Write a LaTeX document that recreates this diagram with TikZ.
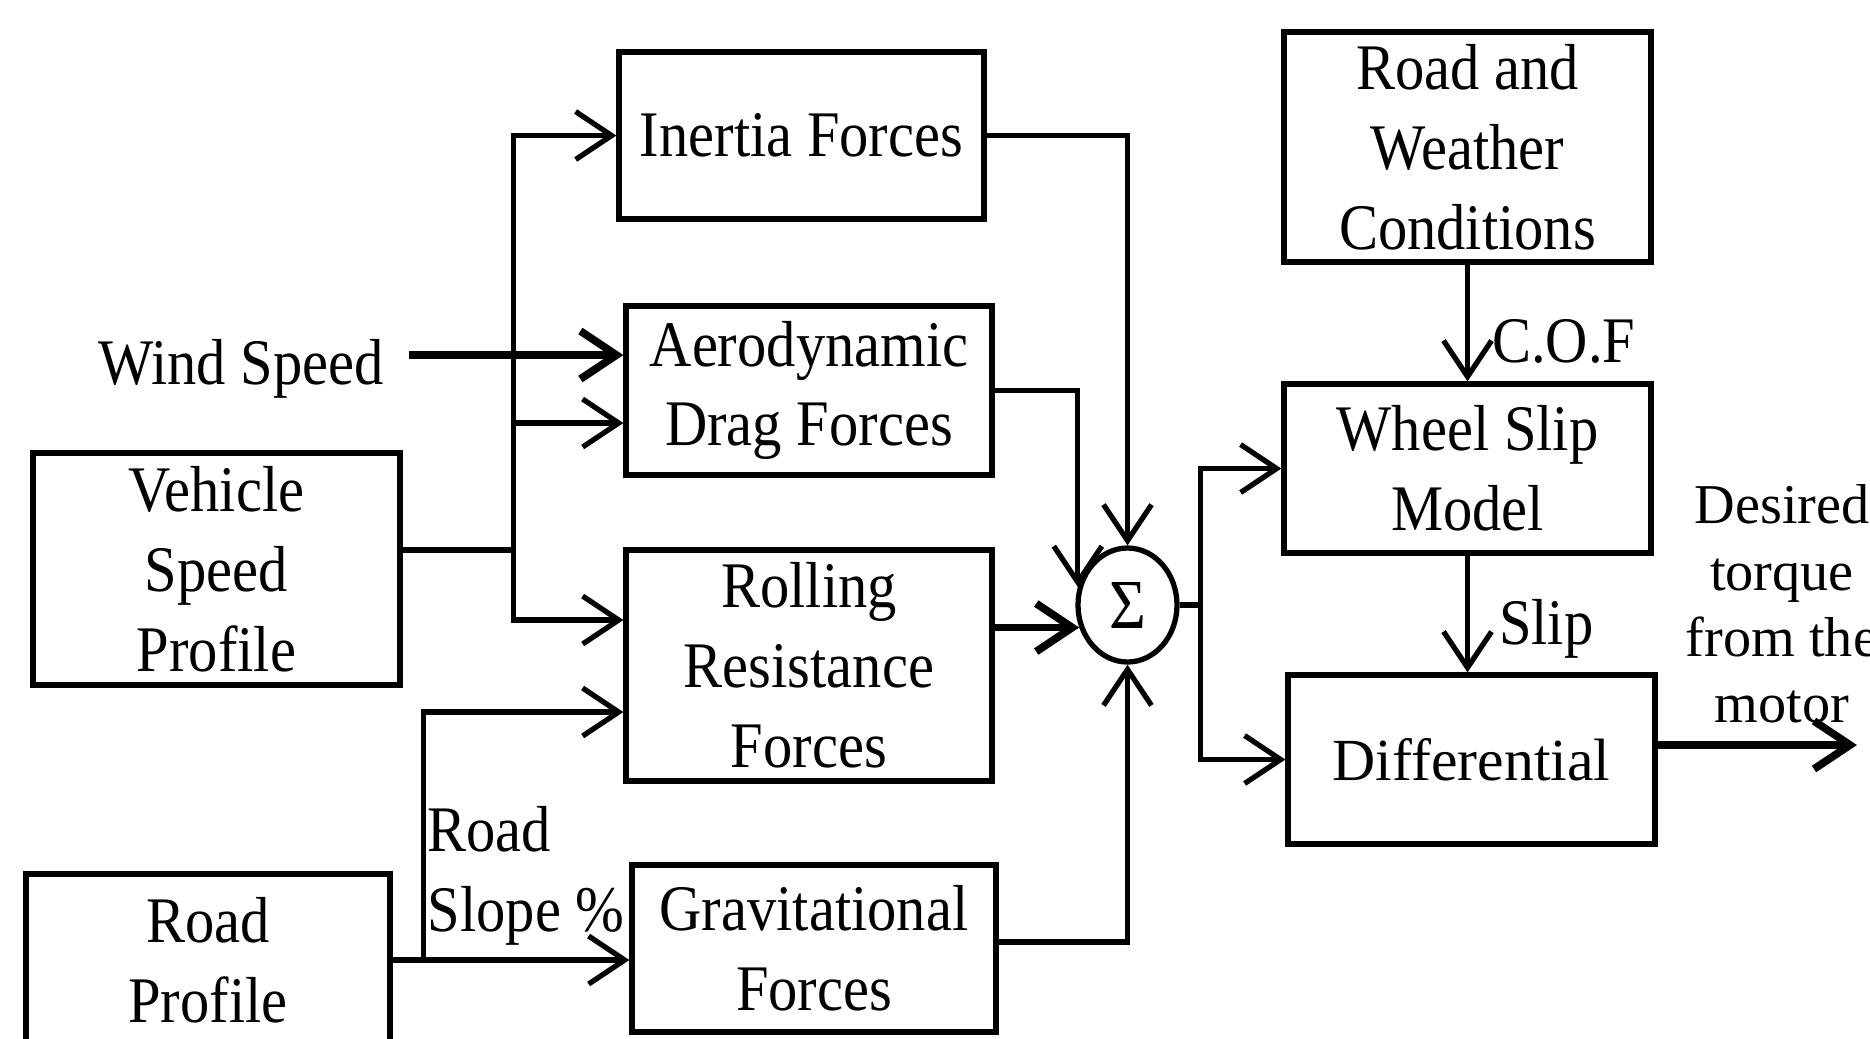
\documentclass[tikz,border=0pt]{standalone}
\usepackage{fontspec}
\setmainfont{Liberation Serif}[FakeStretch=0.9]
\newfontfamily\plainserif{Liberation Serif}
\usetikzlibrary{arrows.meta,shapes.geometric}
\newcommand{\boxfont}{\fontsize{18.5pt}{22.7pt}\selectfont}
\newcommand{\sidefont}{\plainserif\fontsize{16pt}{18.9pt}\selectfont}
\begin{document}
\begin{tikzpicture}[
        block/.style={draw, line width=1.5pt, align=center, inner sep=0pt, font=\boxfont},
        lbl/.style={inner sep=0pt, align=left, font=\boxfont},
        arr/.style={-{Straight Barb[length=3.6mm,width=4.8mm]}, line width=1.5pt},
        wire/.style={line width=1.5pt},
        wide/.style={line width=2.2pt}]
        \useasboundingbox (0,0) rectangle (18.70,-10.38);
        \clip (0,0) rectangle (18.70,-10.38);

        % --- Draw input blocks ---
        \node[lbl] (wind) at (2.41,-3.69) {Wind Speed};
        \node[block, minimum width=3.67cm, minimum height=2.32cm] (vehicle) at (2.165,-5.69) {Vehicle\\Speed\\Profile};
        \node[block, minimum width=3.64cm, minimum height=1.72cm] (road) at (2.08,-9.60) {Road\\Profile};
        % ---

        % --- Draw force blocks ---
        \node[block, minimum width=3.65cm, minimum height=1.67cm] (inertia) at (8.015,-1.355) {Inertia Forces};
        \node[block, minimum width=3.66cm, minimum height=1.69cm] (aero) at (8.09,-3.905) {Aerodynamic\\Drag Forces};
        \node[block, minimum width=3.66cm, minimum height=2.31cm] (rolling) at (8.09,-6.655) {Rolling\\Resistance\\Forces};
        \node[block, minimum width=3.64cm, minimum height=1.67cm] (grav) at (8.14,-9.485) {Gravitational\\Forces};
        % ---

        % --- Draw summing junction ---
        \node[ellipse, draw, line width=1.5pt, inner sep=0pt, minimum width=0.99cm, minimum height=1.14cm, font=\fontsize{20pt}{24pt}\selectfont] (sum) at (11.275,-6.05) {Σ};
        % ---

        % --- Draw drive line blocks ---
        \node[block, minimum width=3.67cm, minimum height=2.30cm] (weather) at (14.675,-1.47) {Road and\\Weather\\Conditions};
        \node[block, minimum width=3.67cm, minimum height=1.69cm] (wheel) at (14.675,-4.685) {Wheel Slip\\Model};
        \node[block, minimum width=3.67cm, minimum height=1.69cm, font=\plainserif\fontsize{17pt}{20pt}\selectfont] (diff) at (14.715,-7.595) {Differential};
        \node[inner sep=0pt, align=center, font=\sidefont] (torquetext) at (17.82,-6.04) {Desired\\torque\\from the\\motor};
        \coordinate (torque) at (18.57,-7.45);
        % ---

        % --- Draw inputs to force blocks ---
        \coordinate (windin) at ([yshift=3.55mm]aero.west);
        \draw[arr, wide] ([xshift=2.5mm]windin -| wind.east) -- (windin);
        \draw[wire] ([yshift=1.9mm]vehicle.east) -- ++(1.11,0) coordinate (bus);
        \draw[arr] (bus) |- (inertia.west);
        \draw[arr] (bus) |- ([yshift=-3.25mm]aero.west);
        \draw[arr] (bus) |- ([yshift=4.55mm]rolling.west);
        \draw[arr] (road.east) -- (road.east -| grav.west);
        \draw[arr] (road.east) -- ++(0.31,0) coordinate (slope) |- ([yshift=-4.65mm]rolling.west);
        \node[lbl, anchor=north west] (slopetext) at (4.27,-8.06) {Road\\Slope \%};
        % ---

        % --- Draw forces into summing junction ---
        \draw[arr] (inertia.east) -| (sum.north);
        \draw[arr] (aero.east) -| (sum.160);
        \draw[arr, wide] (rolling.east |- sum.205) -- (sum.205);
        \draw[arr] ([yshift=0.65mm]grav.east) -| (sum.south);
        % ---

        % --- Draw drive line connections ---
        \draw[wire] (sum.east) -- ++(0.21,0) coordinate (split);
        \draw[arr] (split) |- (wheel.west);
        \draw[arr] (split) |- (diff.west);
        \draw[arr] (weather.south) -- (wheel.north) node[pos=0.66, anchor=west, xshift=2.2mm, lbl] (coflabel) {C.O.F};
        \draw[arr] (wheel.south) -- (wheel.south |- diff.north) node[pos=0.63, anchor=west, xshift=2.9mm, lbl] (sliplabel) {Slip};
        \draw[arr, wide] (diff.east |- torque) -- (torque);
        % ---
    \end{tikzpicture}
\end{document}
